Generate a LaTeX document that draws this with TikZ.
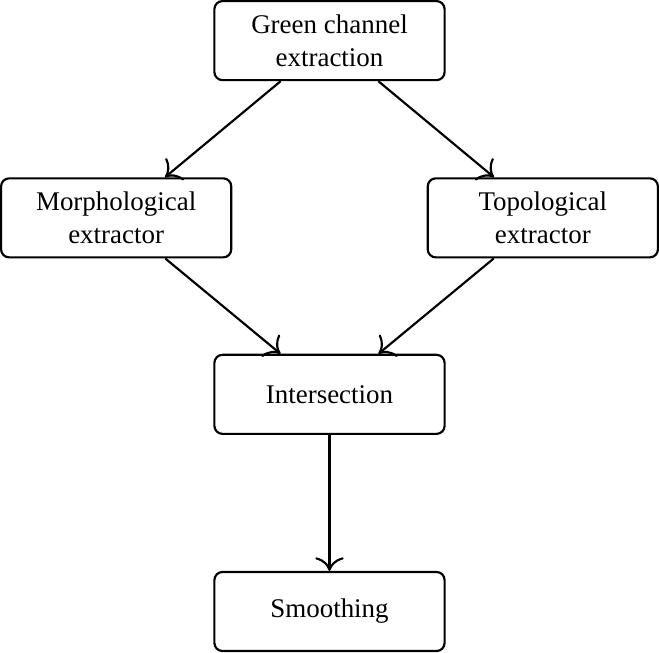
\documentclass[tikz,border=0pt]{standalone}
\usepackage{fontspec}
\setmainfont{Liberation Serif}
\usetikzlibrary{arrows.meta}
\begin{document}
\begin{tikzpicture}[
        thick,
        stage/.style={draw, rounded corners=3pt, align=center,
            minimum width=3cm, minimum height=1.03cm},
        flow/.style={-{To[scale=1.5]}}
    ]
        \node [stage] (green) at (0,0) {Green channel\\extraction};
        \node [stage] (morph) at (-2.78,-2.31) {Morphological\\extractor};
        \node [stage] (topo) at (2.78,-2.31) {Topological\\extractor};
        \node [stage] (inter) at (0,-4.61) {Intersection};
        \node [stage] (smooth) at (0,-7.44) {Smoothing};
        \draw [flow] (green) -- (morph);
        \draw [flow] (green) -- (topo);
        \draw [flow] (morph) -- (inter);
        \draw [flow] (topo) -- (inter);
        \draw [flow] (inter) -- (smooth);
    \end{tikzpicture}
\end{document}
